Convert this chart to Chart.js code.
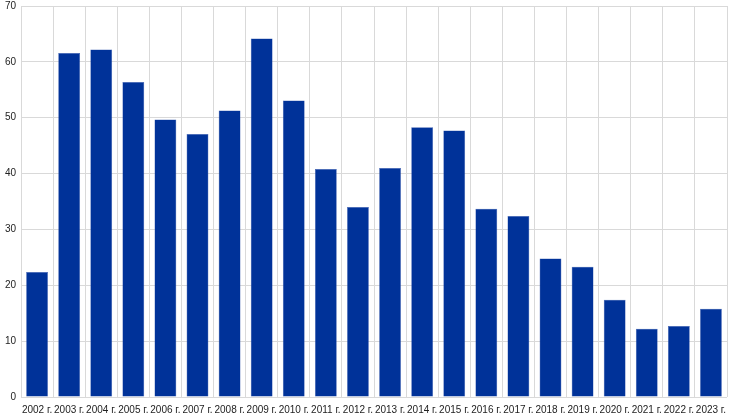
<!DOCTYPE html>
<html>
<head>
<meta charset="utf-8">
<script src="https://cdn.jsdelivr.net/npm/chart.js@4"></script>
<style>
html,body{margin:0;padding:0;background:#fff;}
#wrap{width:744px;height:418px;}
</style>
</head>
<body>
<div id="wrap"><canvas id="c" width="744" height="418"></canvas></div>
<script>
const categories = ["2002 г.","2003 г.","2004 г.","2005 г.","2006 г.","2007 г.","2008 г.","2009 г.","2010 г.","2011 г.","2012 г.","2013 г.","2014 г.","2015 г.","2016 г.","2017 г.","2018 г.","2019 г.","2020 г.","2021 г.","2022 г.","2023 г."];
const values = [22.4,61.6,62.2,56.4,49.7,47.1,51.3,64.2,53.1,40.8,34.0,41.0,48.3,47.7,33.7,32.4,24.8,23.3,17.4,12.2,12.7,15.8];
const yTicks = [0,10,20,30,40,50,60,70];

new Chart(document.getElementById('c'), {
  type: 'bar',
  data: {
    labels: categories,
    datasets: [{
      data: values,
      backgroundColor: '#003299',
      borderColor: '#3a5bb0',
      borderWidth: 0.5,
      categoryPercentage: 1.0,
      barPercentage: 0.68
    }]
  },
  options: {
    responsive: false,
    animation: false,
    layout: { padding: { top: 6, right: 17, left: 0, bottom: 0 } },
    plugins: { legend: { display: false }, tooltip: { enabled: false } },
    scales: {
      x: {
        grid: { color: '#d9d9d9', lineWidth: 1, offset: true, drawTicks: false },
        border: { display: false },
        ticks: { autoSkip: false, maxRotation: 0, minRotation: 0, color: '#222', padding: 7,
                 font: { family: 'Liberation Sans, Arial, sans-serif', size: 10 } },
        afterFit: (s) => { s.height = 21; s.paddingLeft = 0; s.paddingRight = 0; }
      },
      y: {
        min: 0, max: 70,
        afterBuildTicks: (s) => { s.ticks = yTicks.map(v => ({ value: v })); },
        grid: { color: '#d9d9d9', lineWidth: 1, drawTicks: false },
        border: { display: false },
        ticks: { color: '#222', padding: 5,
                 font: { family: 'Liberation Sans, Arial, sans-serif', size: 10 } },
        afterFit: (s) => { s.width = 21; s.paddingTop = 0; s.paddingBottom = 0; }
      }
    }
  }
});
</script>
</body>
</html>
